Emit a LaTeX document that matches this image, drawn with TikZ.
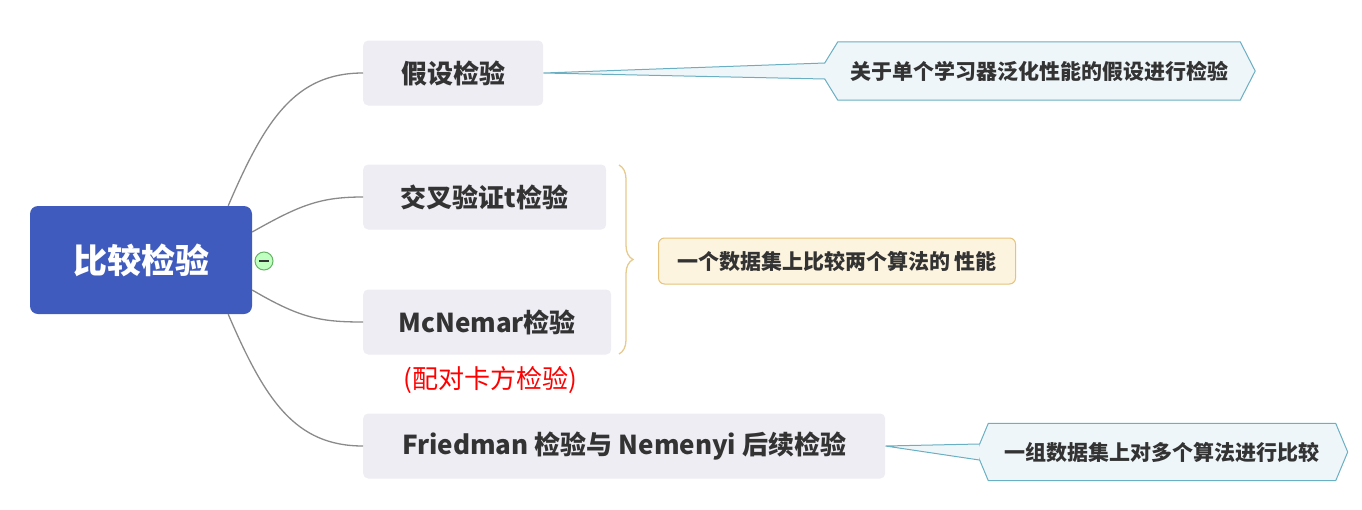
\documentclass[tikz,border=0pt]{standalone}
\usepackage{fontspec}
\setmainfont{Noto Sans CJK SC}
\usetikzlibrary{calc,backgrounds,decorations.pathreplacing}

\definecolor{rootblue}{HTML}{3F5BBE}
\definecolor{topicgray}{HTML}{EDEDF3}
\definecolor{textgray}{HTML}{333333}
\definecolor{linkgray}{HTML}{8A8A8A}
\definecolor{calloutfill}{HTML}{EEF6F9}
\definecolor{calloutline}{HTML}{6AAFC2}
\definecolor{notefill}{HTML}{FDF4DF}
\definecolor{noteline}{HTML}{E6C27A}
\definecolor{bracecol}{HTML}{E6CA8E}

\begin{document}
\begin{tikzpicture}[x=1pt,y=-1pt,
	root/.style={fill=rootblue, rounded corners=8pt, minimum width=222pt, minimum height=108pt,
		text=white, font=\fontsize{34}{40}\selectfont\bfseries},
	topic/.style={fill=topicgray, rounded corners=5pt, minimum height=65pt, inner xsep=35pt,
		anchor=west, text=textgray, font=\fontsize{26}{30}\selectfont\bfseries},
	callout/.style={inner sep=0pt, text=textgray, font=\fontsize{21}{25}\selectfont\bfseries},
	calloutshape/.style={fill=calloutfill, draw=calloutline, line width=1pt, line join=round},
	note/.style={fill=notefill, draw=noteline, line width=1pt, rounded corners=6pt, anchor=west,
		minimum width=357pt, minimum height=46pt, text=textgray, font=\fontsize{21}{25}\selectfont\bfseries},
	link/.style={draw=linkgray, line width=1.3pt}]
	\useasboundingbox (0,0) rectangle (1362,509);

	\node[root] (root) at (141,260) {比较检验};
	\node[circle, fill=green!25, draw=green!50!black!60, line width=1pt, minimum size=18pt, inner sep=0pt] (fold) at (264,261) {};
	\draw[line width=1.5pt, textgray] ($(fold.center)+(-5,0)$) -- ($(fold.center)+(5,0)$);

	\node[topic, minimum width=180pt] (jiashe) at (363,73) {假设检验};
	\node[topic, minimum width=243pt] (jiaocha) at (363,197) {交叉验证t检验};
	\node[topic, minimum width=248pt] (mcnemar) at (363,322) {McNemar检验};
	\node[topic, minimum width=522pt] (friedman) at (363,446) {Friedman 检验与 Nemenyi 后续检验};
	\node[text=red, font=\fontsize{26}{30}\selectfont] (kafang) at (490,380) {(配对卡方检验)};

	% curves from the root
	\draw[link] ($(root.north east)+(-24,0)$) .. controls (265,120) and (295,73) .. (jiashe.west);
	\draw[link] ($(root.east)+(0,-28)$) .. controls (300,205) and (320,197) .. (jiaocha.west);
	\draw[link] ($(root.east)+(0,30)$) .. controls (300,318) and (320,322) .. (mcnemar.west);
	\draw[link] ($(root.south east)+(-24,0)$) .. controls (265,400) and (295,446) .. (friedman.west);

	% brace and its note
	\coordinate (bracetop) at (619,165);
	\coordinate (bracebot) at (619,354);
	\draw[bracecol, line width=1.3pt, decorate, decoration={brace, amplitude=14pt}] (bracetop) -- (bracebot);
	\node[note] (twoalg) at (658,261) {一个数据集上比较两个算法的 性能};

	% callouts
	\node[callout, minimum width=402pt, minimum height=58pt] (single) at (1039,71) {关于单个学习器泛化性能的假设进行检验};
	\node[callout, minimum width=347pt, minimum height=57pt] (multi) at (1162,452) {一组数据集上对多个算法进行比较};
	\begin{scope}[on background layer]
		\filldraw[calloutshape] (single.north west) -- ($(single.west)+(-18,0)$) -- (single.south west)
			-- (single.south east) -- ($(single.east)+(15,0)$) -- (single.north east) -- cycle;
		\fill[calloutfill] (jiashe.east) -- ($(single.west)+(-13,-8)$) -- ($(single.west)+(-13,8)$) -- cycle;
		\draw[calloutline, line width=1pt] ($(single.west)+(-13,-8)$) -- (jiashe.east) -- ($(single.west)+(-13,8)$);

		\filldraw[calloutshape] (multi.north west) -- ($(multi.west)+(-12,0)$) -- (multi.south west)
			-- (multi.south east) -- ($(multi.east)+(12,0)$) -- (multi.north east) -- cycle;
		\fill[calloutfill] (friedman.east) -- ($(multi.west)+(-9,-8)$) -- ($(multi.west)+(-9,8)$) -- cycle;
		\draw[calloutline, line width=1pt] ($(multi.west)+(-9,-8)$) -- (friedman.east) -- ($(multi.west)+(-9,8)$);
	\end{scope}
\end{tikzpicture}
\end{document}
